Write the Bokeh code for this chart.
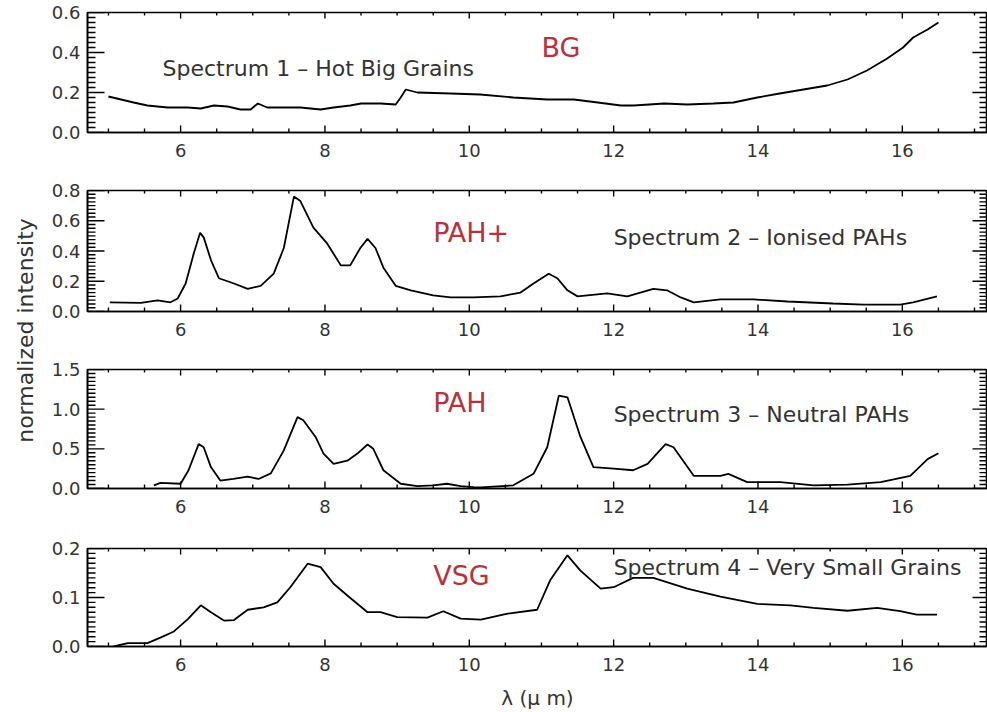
import numpy as np
from bokeh.plotting import figure
from bokeh.layouts import column, row
from bokeh.models import FixedTicker, PrintfTickFormatter, Range1d, Label
from bokeh.embed import file_html
from bokeh.resources import INLINE

# ---- spectra: wavelength (micron) and normalized intensity ----
wl1 = [5.0, 5.35, 5.54, 5.82, 6.1, 6.28, 6.46, 6.65, 6.83, 6.97, 7.07, 7.2, 7.43, 7.66,
       7.94, 8.12, 8.35, 8.5, 8.77, 8.98, 9.05, 9.12, 9.28, 9.74, 10.15, 10.61, 11.08,
       11.45, 11.78, 12.1, 12.28, 12.7, 13.02, 13.38, 13.66, 13.99, 14.3, 14.63, 14.96,
       15.24, 15.51, 15.79, 16.01, 16.15, 16.35, 16.5]
hot_big_grains = [0.18, 0.15, 0.135, 0.125, 0.125, 0.12, 0.135, 0.13, 0.115, 0.115, 0.145,
                  0.125, 0.125, 0.125, 0.115, 0.125, 0.135, 0.145, 0.145, 0.14, 0.175,
                  0.215, 0.2, 0.195, 0.19, 0.175, 0.165, 0.165, 0.15, 0.135, 0.135, 0.145,
                  0.14, 0.145, 0.15, 0.175, 0.195, 0.215, 0.235, 0.265, 0.31, 0.37, 0.425,
                  0.475, 0.515, 0.55]

wl2 = [5.02, 5.45, 5.68, 5.86, 5.96, 6.07, 6.18, 6.27, 6.32, 6.42, 6.53, 6.74, 6.93, 7.11,
       7.29, 7.43, 7.57, 7.66, 7.84, 8.03, 8.22, 8.35, 8.49, 8.59, 8.7, 8.81, 8.98, 9.19,
       9.5, 9.74, 10.06, 10.43, 10.71, 10.89, 11.1, 11.22, 11.36, 11.5, 11.91, 12.19,
       12.55, 12.74, 12.93, 13.11, 13.48, 13.94, 14.41, 15.04, 15.46, 15.97, 16.15, 16.48]
ionised_pahs = [0.06, 0.057, 0.073, 0.061, 0.086, 0.185, 0.38, 0.52, 0.49, 0.34, 0.22,
                0.185, 0.15, 0.17, 0.25, 0.42, 0.76, 0.73, 0.555, 0.45, 0.305, 0.305,
                0.42, 0.48, 0.42, 0.29, 0.17, 0.14, 0.106, 0.093, 0.093, 0.1, 0.125,
                0.185, 0.25, 0.22, 0.14, 0.1, 0.12, 0.1, 0.15, 0.14, 0.093, 0.06, 0.08,
                0.08, 0.066, 0.053, 0.046, 0.046, 0.06, 0.1]

wl3 = [5.63, 5.72, 6.0, 6.11, 6.25, 6.32, 6.42, 6.55, 6.73, 6.93, 7.08, 7.25, 7.43, 7.62,
       7.7, 7.87, 7.98, 8.12, 8.31, 8.45, 8.59, 8.67, 8.81, 9.05, 9.28, 9.5, 9.69, 9.88,
       10.06, 10.16, 10.61, 10.89, 11.08, 11.24, 11.36, 11.54, 11.72, 12.0, 12.27, 12.47,
       12.72, 12.83, 13.11, 13.48, 13.59, 13.85, 14.31, 14.77, 15.24, 15.7, 16.11, 16.35,
       16.5]
neutral_pahs = [0.04, 0.07, 0.06, 0.23, 0.56, 0.52, 0.27, 0.1, 0.12, 0.15, 0.12, 0.19,
                0.48, 0.9, 0.86, 0.65, 0.44, 0.31, 0.35, 0.44, 0.555, 0.5, 0.23, 0.06,
                0.03, 0.04, 0.06, 0.03, 0.017, 0.015, 0.04, 0.185, 0.52, 1.17, 1.15, 0.65,
                0.27, 0.25, 0.23, 0.31, 0.56, 0.52, 0.16, 0.16, 0.185, 0.08, 0.08, 0.04,
                0.05, 0.08, 0.16, 0.37, 0.445]

wl4 = [5.07, 5.27, 5.54, 5.72, 5.9, 6.1, 6.28, 6.42, 6.6, 6.74, 6.93, 7.15, 7.34, 7.52,
       7.76, 7.94, 8.12, 8.31, 8.59, 8.77, 9.0, 9.42, 9.64, 9.88, 10.16, 10.53, 10.94,
       11.12, 11.36, 11.54, 11.82, 12.0, 12.27, 12.55, 13.02, 13.48, 13.99, 14.45, 14.77,
       15.24, 15.65, 15.97, 16.2, 16.48]
very_small_grains = [0.0, 0.007, 0.007, 0.018, 0.03, 0.056, 0.084, 0.07, 0.053, 0.054,
                     0.075, 0.08, 0.09, 0.121, 0.169, 0.162, 0.128, 0.104, 0.07, 0.07,
                     0.06, 0.059, 0.072, 0.057, 0.055, 0.067, 0.075, 0.135, 0.186, 0.155,
                     0.118, 0.121, 0.14, 0.14, 0.118, 0.102, 0.087, 0.084, 0.079, 0.073,
                     0.079, 0.072, 0.065, 0.065]

captions = ["Spectrum 1 \u2013 Hot Big Grains", "Spectrum 2 \u2013 Ionised PAHs",
            "Spectrum 3 \u2013 Neutral PAHs", "Spectrum 4 \u2013 Very Small Grains"]
tags = ["BG", "PAH+", "PAH", "VSG"]
x_ticks = [6, 8, 10, 12, 14, 16]

FONT = "DejaVu Sans"
INK = "#333333"
RED = "#b8323c"
X_LO, X_HI = 4.71, 17.18
FIG_W, BORDER_L = 947, 47
FRAME_W = FIG_W - BORDER_L


def box_ticks(p, ymax, frame_h, x_major, x_minor, y_major, y_minor):
    """Inward-pointing IDL-style ticks on all four sides, drawn as one
    NaN-separated polyline."""
    ux = (X_HI - X_LO) / FRAME_W      # data units per pixel, x
    uy = ymax / frame_h               # data units per pixel, y
    px, py = [], []

    def seg(xa, ya, xb, yb):
        px.extend([xa, xb, np.nan])
        py.extend([ya, yb, np.nan])

    for v in x_minor:
        seg(v, 0.0, v, 4 * uy)
        seg(v, ymax, v, ymax - 3 * uy)
    for v in x_major:
        seg(v, 0.0, v, 7 * uy)
        seg(v, ymax, v, ymax - 6 * uy)
    for v in y_minor:
        seg(X_LO, v, X_LO + 8 * ux, v)
        seg(X_HI, v, X_HI - 8 * ux, v)
    for v in y_major:
        seg(X_LO, v, X_LO + 17 * ux, v)
        seg(X_HI, v, X_HI - 15 * ux, v)
    p.line(np.array(px), np.array(py), line_color="black", line_width=1.4)


def panel(xs, ys, ymax, ystep, yminor_step, height, top, bottom,
          caption, cap_pos, tag, tag_pos):
    p = figure(width=FIG_W, height=height, output_backend="svg", toolbar_location=None,
               x_range=Range1d(X_LO, X_HI), y_range=Range1d(0, ymax),
               min_border_left=BORDER_L, min_border_right=0,
               min_border_top=top, min_border_bottom=bottom)
    p.xgrid.visible = False
    p.ygrid.visible = False
    p.outline_line_color = "black"
    p.outline_line_width = 1.6
    frame_h = height - top - bottom

    y_major = [float(v) for v in np.round(np.arange(0, ymax + ystep / 2, ystep), 6)]
    y_minor = [float(v) for v in np.round(np.arange(0, ymax + yminor_step / 2, yminor_step), 6)]
    x_minor = [float(v) for v in np.arange(5.0, 17.01, 0.5)]

    xa = p.xaxis[0]
    ya = p.yaxis[0]
    xa.ticker = FixedTicker(ticks=x_ticks)
    xa.formatter = PrintfTickFormatter(format="%d")
    ya.ticker = FixedTicker(ticks=y_major)
    ya.formatter = PrintfTickFormatter(format="%.1f")
    for ax in (xa, ya):
        ax.axis_line_color = "black"
        ax.axis_line_width = 1.6
        ax.major_tick_line_color = None
        ax.minor_tick_line_color = None
        ax.major_tick_in = 0
        ax.major_tick_out = 0
        ax.minor_tick_in = 0
        ax.minor_tick_out = 0
        ax.major_label_text_font = FONT
        ax.major_label_text_font_size = "18px"
        ax.major_label_text_color = INK
    xa.major_label_standoff = 11
    ya.major_label_standoff = 7

    p.line(xs, ys, line_color="black", line_width=1.8)
    box_ticks(p, ymax, frame_h, [float(v) for v in x_ticks], x_minor, y_major, y_minor)

    p.add_layout(Label(x=cap_pos[0], y=cap_pos[1], text=caption, text_font=FONT,
                       text_font_size="22px", text_color=INK,
                       text_align="left", text_baseline="middle"))
    p.add_layout(Label(x=tag_pos[0], y=tag_pos[1], text=tag, text_font=FONT,
                       text_font_size="27px", text_color=RED,
                       text_align="left", text_baseline="middle"))
    return p


p1 = panel(wl1, hot_big_grains, 0.6, 0.2, 0.025, 170, 12, 38,
           captions[0], (5.75, 0.32), tags[0], (11.0, 0.425))
p2 = panel(wl2, ionised_pahs, 0.8, 0.2, 0.025, 170, 20, 29,
           captions[1], (12.0, 0.49), tags[1], (9.5, 0.52))
p3 = panel(wl3, neutral_pahs, 1.5, 0.5, 0.05, 180, 29, 32,
           captions[2], (12.0, 0.93), tags[2], (9.5, 1.085))
p4 = panel(wl4, very_small_grains, 0.2, 0.1, 0.01, 192, 28, 66,
           captions[3], (12.0, 0.161), tags[3], (9.5, 0.145))
xb = p4.below[0]
xb.axis_label = "\u03bb (\u03bc m)"
xb.axis_label_text_font = FONT
xb.axis_label_text_font_size = "20px"
xb.axis_label_text_font_style = "normal"
xb.axis_label_text_color = INK
xb.axis_label_standoff = 12

# shared y-axis title in a narrow strip on the left
ylab = figure(width=40, height=712, output_backend="svg", toolbar_location=None,
              x_range=Range1d(0, 40), y_range=Range1d(0, 712),
              x_axis_location=None, y_axis_location=None, min_border=0)
ylab.xgrid.visible = False
ylab.ygrid.visible = False
ylab.outline_line_color = None
ylab.add_layout(Label(x=25, y=382, text="normalized intensity", angle=np.pi / 2,
                      text_font=FONT, text_font_size="22px", text_color=INK,
                      text_align="center", text_baseline="middle"))

layout = row(ylab, column(p1, p2, p3, p4))

with open("out.html", "w") as f:
    f.write(file_html(layout, INLINE))
